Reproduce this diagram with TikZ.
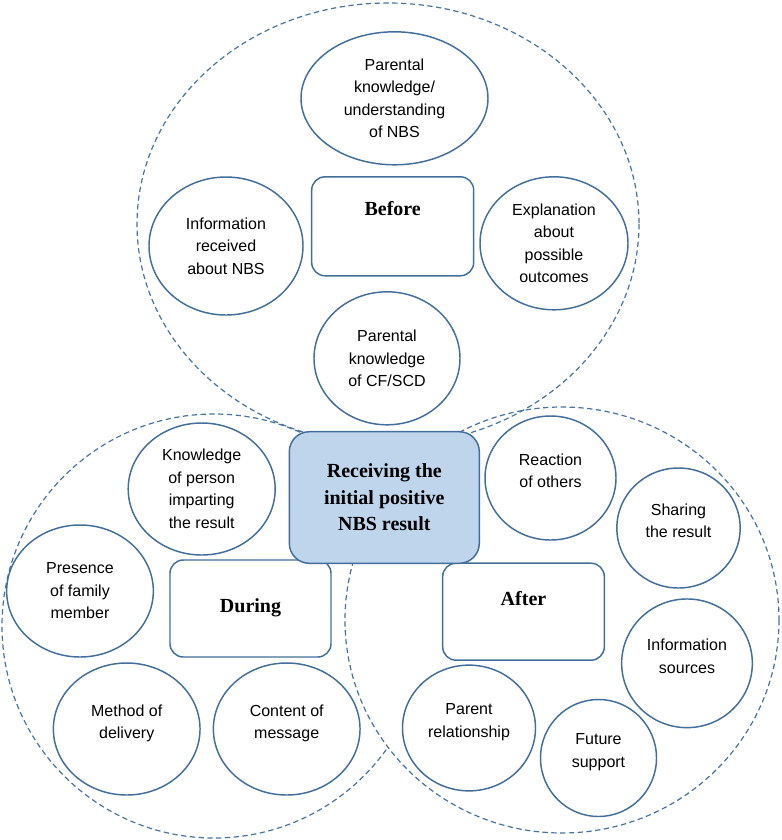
\documentclass[tikz,border=0pt]{standalone}
\usepackage{fontspec}
\setmainfont{Liberation Serif}
\setsansfont{Liberation Sans}
\definecolor{edgeblue}{RGB}{65, 110, 155}
\definecolor{ringblue}{RGB}{70, 115, 160}
\definecolor{corefill}{RGB}{190, 213, 236}
\usetikzlibrary{shapes.geometric}

\begin{document}
\begin{tikzpicture}[x=0.75pt, y=-0.75pt,
    ring/.style={draw=ringblue, line width=0.9pt, dash pattern=on 4pt off 2.6pt},
    topic/.style={ellipse, draw=edgeblue, fill=white, line width=1.1pt, inner sep=0pt,
      align=center, font=\sffamily\fontsize{12}{16.9}\selectfont},
    twoline/.style={text depth=11pt},
    phase/.style={draw=edgeblue, fill=white, line width=1.1pt, rounded corners=10pt,
      inner sep=0pt, font=\bfseries\fontsize{15}{18}\selectfont}]
  \useasboundingbox (0,0) rectangle (782,840);

  % the three phases
  \draw[ring] (214,626) circle [radius=212];
  \draw[ring, fill=white] (562,620) ellipse [x radius=217, y radius=213];
  \draw[ring] (388,224) ellipse [x radius=251, y radius=221];

  % Before
  \node[phase, minimum width=121.5pt, text height=29.25pt, text depth=45pt] (before) at (392.7,226.3) {Before};
  \node[topic, minimum width=140.25pt, minimum height=99.75pt] (parknbs) at (394.5,98.3) {Parental\\knowledge/\\understanding\\of NBS};
  \node[topic, minimum width=115.5pt, minimum height=103.5pt] (inforec) at (226,246) {Information\\received\\about NBS};
  \node[topic, minimum width=111pt, minimum height=99.75pt] (explain) at (554,243.3) {Explanation\\about\\possible\\outcomes};
  \node[topic, minimum width=109.5pt, minimum height=99.75pt] (parkcf) at (387,358.3) {Parental\\knowledge\\of CF/SCD};

  % During
  \node[phase, minimum width=120.75pt, text height=39pt, text depth=33.75pt] (during) at (250.5,608.5) {During};
  \node[topic, minimum width=110.25pt, minimum height=99pt] (knowperson) at (201.7,489) {Knowledge\\of person\\imparting\\the result};
  \node[topic, minimum width=110pt, minimum height=99pt] (presence) at (80,591) {Presence\\of family\\member};
  \node[topic, twoline, minimum width=110pt, minimum height=99pt] (method) at (126.7,729) {Method of\\delivery};
  \node[topic, twoline, minimum width=110pt, minimum height=99pt] (content) at (286.7,729) {Content of\\message};

  % After
  \node[phase, minimum width=121.2pt, text height=31.5pt, text depth=41.25pt] (after) at (523.5,611.7) {After};
  \node[topic, twoline, minimum width=98.25pt, minimum height=93pt] (reaction) at (550.5,478) {Reaction\\of others};
  \node[topic, twoline, minimum width=92.5pt, minimum height=90pt] (sharing) at (678.5,528) {Sharing\\the result};
  \node[topic, twoline, minimum width=98pt, minimum height=96.5pt] (infosrc) at (687,663.3) {Information\\sources};
  \node[topic, twoline, minimum width=99.75pt, minimum height=94.3pt] (parentrel) at (469,728) {Parent\\relationship};
  \node[topic, twoline, minimum width=87pt, minimum height=87.75pt] (future) at (598.5,758) {Future\\support};

  % the event itself
  \node[draw=edgeblue, fill=corefill, line width=1.1pt, rounded corners=15pt, align=center,
    minimum width=142.5pt, minimum height=98.7pt, font=\bfseries\fontsize{15}{20}\selectfont] (core) at (384.3,497.5)
    {Receiving the\\initial positive\\NBS result};
\end{tikzpicture}
\end{document}
